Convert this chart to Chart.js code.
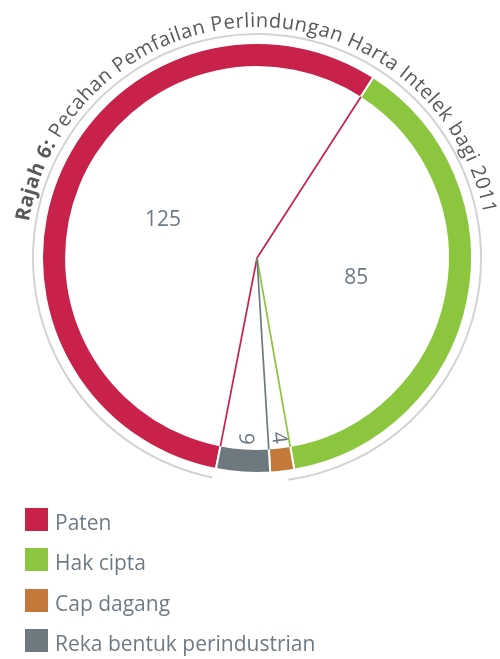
<!DOCTYPE html>
<html>
<head>
<meta charset="utf-8">
<script src="https://cdn.jsdelivr.net/npm/chart.js@4.4.1/dist/chart.umd.min.js"></script>
<style>
  html, body { margin: 0; padding: 0; background: #fff; }
  #wrap { position: relative; width: 500px; height: 659px; }
  #c { position: absolute; left: 0; top: 0; }
  .item { position: absolute; left: 25px; height: 23px; }
  .box { position: absolute; left: 0; top: 0; width: 23px; height: 23px; }
  .txt { position: absolute; left: 30px; top: 4px; font-family: "Open Sans"; font-size: 21px; line-height: 21px; color: #6f7b84; white-space: nowrap; }
</style>
</head>
<body>
<div id="wrap">
  <canvas id="c" width="500" height="659"></canvas>
  <div id="legend"></div>
</div>
<script>
var categories = ['Paten', 'Hak cipta', 'Cap dagang', 'Reka bentuk perindustrian'];
var values = [125, 85, 4, 9];
var colors = ['#c8214a', '#8cc63f', '#c4783a', '#6e787f'];
var titleBold = 'Rajah 6:';
var titleRest = ' Pecahan Pemfailan Perlindungan Harta Intelek bagi 2011';

// which radial edges of each slice get a thin line to the centre
var spokeEdges = [['start', 'end'], ['end'], [], ['start']];

function deg(d) { return d * Math.PI / 180; }

// write text along a circle, spreading it from angle a0 to a1
function arcText(ctx, cx, cy, R, a0, a1, parts) {
    var chars = [];
    var total = 0;
    parts.forEach(function (p) {
        ctx.font = p.font;
        for (var i = 0; i < p.text.length; i++) {
            var w = ctx.measureText(p.text[i]).width;
            chars.push({ c: p.text[i], font: p.font, w: w });
            total += w;
        }
    });
    var gap = (R * (a1 - a0) - total) / (chars.length - 1);
    var pos = 0;
    chars.forEach(function (ch) {
        var a = a0 + (pos + ch.w / 2) / R;
        ctx.save();
        ctx.font = ch.font;
        ctx.translate(cx + Math.cos(a) * R, cy + Math.sin(a) * R);
        ctx.rotate(a + Math.PI / 2);
        ctx.textAlign = 'center';
        ctx.textBaseline = 'alphabetic';
        ctx.fillText(ch.c, 0, 0);
        ctx.restore();
        pos += ch.w + gap;
    });
}

var ringDecor = {
    id: 'ringDecor',
    afterDatasetsDraw: function (chart) {
        var ctx = chart.ctx;
        var arcs = chart.getDatasetMeta(0).data;
        var cx = arcs[0].x, cy = arcs[0].y;

        ctx.save();
        // spokes
        ctx.lineWidth = 1.7;
        arcs.forEach(function (arc, i) {
            spokeEdges[i].forEach(function (e) {
                var a = e === 'start' ? arc.startAngle : arc.endAngle;
                ctx.strokeStyle = colors[i];
                ctx.beginPath();
                ctx.moveTo(cx, cy);
                ctx.lineTo(cx + Math.cos(a) * (arc.innerRadius + 1), cy + Math.sin(a) * (arc.innerRadius + 1));
                ctx.stroke();
            });
        });

        // thin outer circle, open under the two small slices
        ctx.strokeStyle = '#d3d3d3';
        ctx.lineWidth = 2;
        ctx.beginPath();
        ctx.arc(cx, cy, arcs[0].outerRadius + 9,
            arcs[3].endAngle + deg(0.5), arcs[2].startAngle + deg(2) + Math.PI * 2);
        ctx.stroke();

        // value labels
        ctx.fillStyle = '#6d7983';
        ctx.font = '21px "Open Sans"';
        ctx.textBaseline = 'middle';
        arcs.forEach(function (arc, i) {
            var mid = (arc.startAngle + arc.endAngle) / 2;
            if (arc.endAngle - arc.startAngle > 0.5) {
                var r = arc.innerRadius * 0.53;
                ctx.textAlign = 'center';
                ctx.fillText(String(values[i]), cx + Math.cos(mid) * r, cy + Math.sin(mid) * r);
            } else {
                var r2 = arc.innerRadius - 4;
                ctx.save();
                ctx.translate(cx + Math.cos(mid) * r2, cy + Math.sin(mid) * r2);
                ctx.rotate(mid);
                ctx.textAlign = 'right';
                ctx.fillText(String(values[i]), 0, 0);
                ctx.restore();
            }
        });

        // curved title
        ctx.fillStyle = '#58595b';
        arcText(ctx, cx, cy, arcs[0].outerRadius + 16, deg(-171), deg(-11), [
            { text: titleBold, font: 'bold 20px "Open Sans"' },
            { text: titleRest, font: '20px "Open Sans"' }
        ]);
        ctx.restore();
    }
};

var ctx = document.getElementById('c');
var myChart = new Chart(ctx, {
    type: 'doughnut',
    data: {
        labels: categories,
        datasets: [{
            data: values,
            backgroundColor: colors,
            borderColor: '#ffffff',
            borderWidth: 2
        }]
    },
    options: {
        responsive: false,
        animation: false,
        rotation: 191,
        radius: 215,
        cutout: '88.8%',
        layout: { padding: { left: 43, right: 29, top: 44, bottom: 187 } },
        plugins: {
            legend: { display: false },
            tooltip: { enabled: false }
        }
    },
    plugins: [ringDecor]
});

// legend under the ring
var legend = document.getElementById('legend');
categories.forEach(function (name, i) {
    var item = document.createElement('div');
    item.className = 'item';
    item.style.top = (508 + i * 40.3) + 'px';
    var box = document.createElement('div');
    box.className = 'box';
    box.style.background = colors[i];
    var txt = document.createElement('span');
    txt.className = 'txt';
    txt.textContent = name;
    item.appendChild(box);
    item.appendChild(txt);
    legend.appendChild(item);
});
</script>
</body>
</html>
